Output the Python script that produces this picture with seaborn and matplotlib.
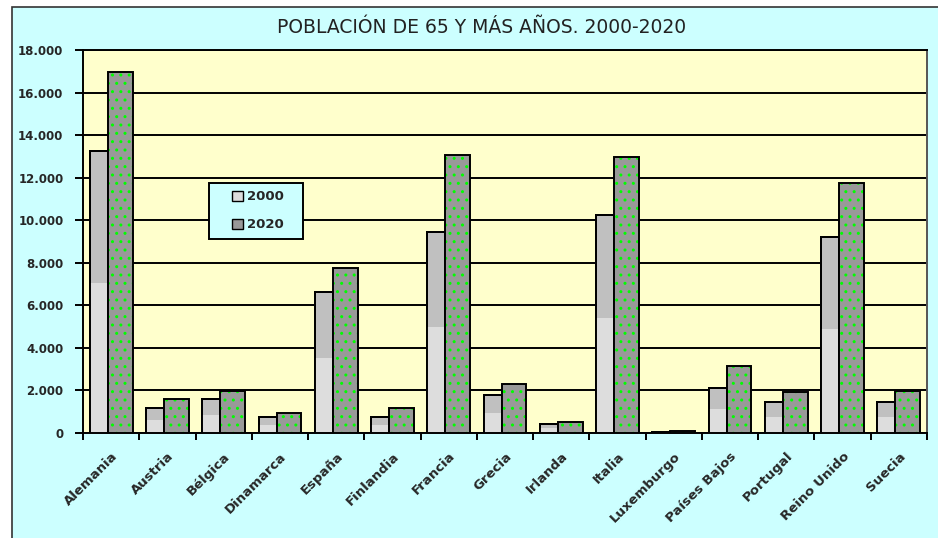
import numpy as np
import pandas as pd
import matplotlib.pyplot as plt
import matplotlib.patches as mpatches
import seaborn as sns

paises = ["Alemania", "Austria", "Bélgica", "Dinamarca", "España", "Finlandia",
          "Francia", "Grecia", "Irlanda", "Italia", "Luxemburgo", "Países Bajos",
          "Portugal", "Reino Unido", "Suecia"]
pob_2000 = [13270, 1160, 1580, 750, 6610, 750, 9430, 1790, 420, 10240, 60, 2100, 1460, 9220, 1460]
pob_2020 = [16980, 1580, 1970, 950, 7740, 1160, 13060, 2300, 530, 12980, 80, 3150, 1940, 11730, 1970]
years = ["2000", "2020"]
yticks = list(range(0, 18001, 2000))

df = pd.DataFrame({
    "pais": paises * 2,
    "valor": pob_2000 + pob_2020,
    "anio": [years[0]] * len(paises) + [years[1]] * len(paises),
})

sns.set_style("white")
plt.rcParams["font.family"] = ["DejaVu Sans"]

fig = plt.figure(figsize=(9.38, 5.38), dpi=100)
fig.patch.set_facecolor("white")
# outer cyan chart box
fig.patches.append(mpatches.Rectangle((12 / 938, -0.01), 1.0, 531 / 538 + 0.01,
                                      transform=fig.transFigure, facecolor="#CCFFFF",
                                      edgecolor="#333333", linewidth=1.2, zorder=-10))

ax = fig.add_axes([83 / 938, 105 / 538, 844 / 938, 383 / 538])
ax.set_facecolor("#FFFFCC")

sns.barplot(data=df, x="pais", y="valor", hue="anio", palette=["#C0C0C0", "#999999"],
            width=0.76, edgecolor="black", linewidth=1.4, ax=ax, legend=False, zorder=3)

# 2000 bars narrower, 2020 bars wider
for p in ax.containers[0]:
    p.set_width(0.32)
    # lighter lower part
    ax.add_patch(mpatches.Rectangle((p.get_x(), 0), p.get_width(), p.get_height() * 0.53,
                                    facecolor="#DDDDDD", edgecolor="none", zorder=3.5))
    ax.add_patch(mpatches.Rectangle((p.get_x(), 0), p.get_width(), p.get_height(),
                                    fill=False, edgecolor="black", linewidth=1.4, zorder=3.6))
for p in ax.containers[1]:
    c = p.get_x()
    p.set_x(c - 0.06)
    p.set_width(0.44)
    p.set_hatch("..")
    p._hatch_color = (0.0, 1.0, 0.0, 1.0)
    p.set_zorder(4)

ax.set_ylim(0, 18000)
ax.set_xlim(-0.5, len(paises) - 0.5)
ax.set_yticks(yticks)
ax.set_yticklabels([f"{v:,}".replace(",", ".") for v in yticks], fontsize=8.5, fontweight="bold")
ax.yaxis.grid(True, color="black", linewidth=1.4, zorder=1)
ax.set_axisbelow(True)
ax.tick_params(axis="y", direction="out", length=6, width=1.4, pad=8, left=True, color="black")

ax.set_xticks(range(len(paises)))
ax.set_xticklabels(paises, rotation=45, ha="right", rotation_mode="anchor",
                   fontsize=9.5, fontweight="bold")
ax.set_xticks(np.arange(-0.5, len(paises), 1.0), minor=True)
ax.tick_params(axis="x", which="major", length=0, pad=12)
ax.tick_params(axis="x", which="minor", direction="out", length=5, width=1.4,
               bottom=True, color="black")
ax.set_xlabel("")
ax.set_ylabel("")

for s in ["left", "bottom", "top"]:
    ax.spines[s].set_color("black")
    ax.spines[s].set_linewidth(1.4)
ax.spines["right"].set_color("#555555")
ax.spines["right"].set_linewidth(1.4)

fig.text(482 / 938, 0.948, "POBLACIÓN DE 65 Y MÁS AÑOS. 2000-2020", ha="center",
         va="center", fontsize=13.5, color="#222222")

# legend box (drawn separately so it can be wider than the entries)
ax.add_patch(mpatches.Rectangle((0.149, 0.507), 0.112, 0.146, transform=ax.transAxes,
                                facecolor="#CCFFFF", edgecolor="black", linewidth=1.4,
                                zorder=6))
h1 = mpatches.Patch(facecolor="#DDDDDD", edgecolor="black", linewidth=1.0, label=years[0])
h2 = mpatches.Patch(facecolor="#999999", edgecolor="black", linewidth=1.0, label=years[1])
leg = ax.legend(handles=[h1, h2], loc="center", bbox_to_anchor=(0.207, 0.580),
                frameon=False, prop={"weight": "bold", "size": 9.5},
                handlelength=0.8, handleheight=0.8, handletextpad=0.3,
                borderpad=0, borderaxespad=0, labelspacing=1.15)
leg.set_zorder(7)

fig.savefig("out.png", dpi=100, facecolor=fig.get_facecolor())
